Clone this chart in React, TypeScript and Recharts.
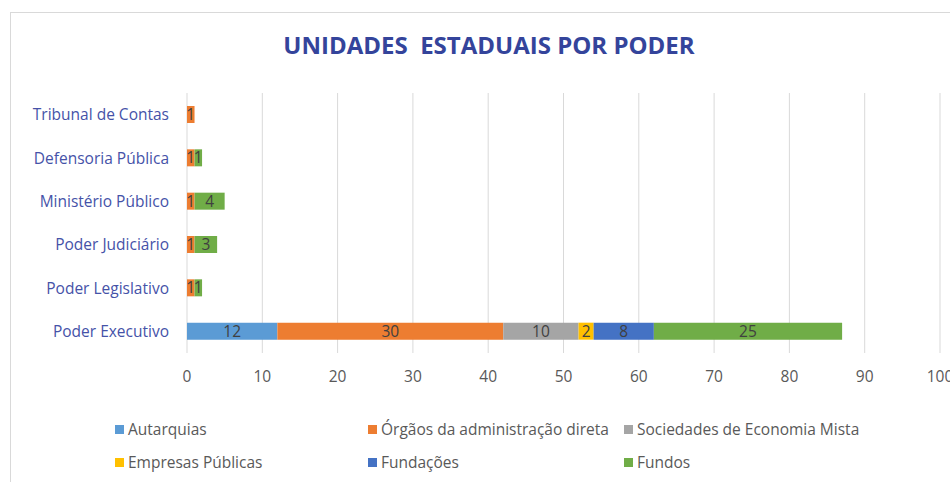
import { BarChart, Bar, XAxis, YAxis, CartesianGrid, LabelList } from "recharts";

const CATEGORIES = [
  "Tribunal de Contas",
  "Defensoria Pública",
  "Ministério Público",
  "Poder Judiciário",
  "Poder Legislativo",
  "Poder Executivo",
];
const AUTARQUIAS = [0, 0, 0, 0, 0, 12];
const ORGAOS = [1, 1, 1, 1, 1, 30];
const SOCIEDADES = [0, 0, 0, 0, 0, 10];
const EMPRESAS = [0, 0, 0, 0, 0, 2];
const FUNDACOES = [0, 0, 0, 0, 0, 8];
const FUNDOS = [0, 1, 4, 3, 1, 25];
const X_TICKS = [0, 10, 20, 30, 40, 50, 60, 70, 80, 90, 100];

const SERIES = [
  { key: "autarquias", name: "Autarquias", color: "#5B9BD5" },
  { key: "orgaos", name: "Órgãos da administração direta", color: "#ED7D31" },
  { key: "sociedades", name: "Sociedades de Economia Mista", color: "#A5A5A5" },
  { key: "empresas", name: "Empresas Públicas", color: "#FFC000" },
  { key: "fundacoes", name: "Fundações", color: "#4472C4" },
  { key: "fundos", name: "Fundos", color: "#70AD47" },
];

const data = CATEGORIES.map((name, i) => ({
  name,
  autarquias: AUTARQUIAS[i],
  orgaos: ORGAOS[i],
  sociedades: SOCIEDADES[i],
  empresas: EMPRESAS[i],
  fundacoes: FUNDACOES[i],
  fundos: FUNDOS[i],
}));

const FONT = "'Open Sans', sans-serif";

// legend laid out in two rows of three, like the Excel original
const LEGEND_COLS = [120, 373, 629];
const LEGEND_ROWS = [429, 462];

export default function App() {
  return (
    <div
      style={{
        position: "fixed",
        left: 0,
        top: 0,
        width: 950,
        height: 482,
        background: "#fff",
        overflow: "hidden",
        fontFamily: FONT,
      }}
    >
      {/* frame */}
      <div
        style={{
          position: "absolute",
          left: 10,
          top: 12,
          width: 980,
          height: 500,
          border: "1px solid #d9d9d9",
        }}
      />

      {/* Title */}
      <div
        style={{
          position: "absolute",
          left: 0,
          width: 978,
          top: 29,
          textAlign: "center",
          fontSize: 24,
          fontWeight: 700,
          color: "#34449B",
          whiteSpace: "pre",
          lineHeight: "32px",
        }}
      >
        {"UNIDADES  ESTADUAIS POR PODER"}
      </div>

      <div style={{ position: "absolute", left: 0, top: 0 }}>
        <BarChart
          width={950}
          height={400}
          data={data}
          layout="vertical"
          margin={{ top: 93, right: 10, left: 0, bottom: 17 }}
        >
          <CartesianGrid horizontal={false} stroke="#d9d9d9" />
          <XAxis
            type="number"
            domain={[0, 100]}
            ticks={X_TICKS}
            interval={0}
            axisLine={false}
            tickLine={false}
            tickMargin={12}
            height={30}
            tick={{ fill: "#595959", fontSize: 15.5, fontFamily: FONT }}
          />
          <YAxis
            type="category"
            dataKey="name"
            width={187}
            axisLine={false}
            tickLine={false}
            tickMargin={12}
            tick={{ fill: "#4552A8", fontSize: 15.5, fontFamily: FONT }}
          />
          {SERIES.map((s) => (
            <Bar
              key={s.key}
              dataKey={s.key}
              name={s.name}
              stackId="a"
              fill={s.color}
              barSize={17}
              isAnimationActive={false}
            >
              <LabelList
                dataKey={s.key}
                position="center"
                formatter={(v: number) => (v ? v : "")}
                style={{ fill: "#404040", fontSize: 15.5, fontFamily: FONT }}
              />
            </Bar>
          ))}
        </BarChart>
      </div>

      {/* Legend */}
      {SERIES.map((s, i) => (
        <div
          key={s.key}
          style={{
            position: "absolute",
            left: LEGEND_COLS[i % 3] - 5,
            top: LEGEND_ROWS[Math.floor(i / 3)] - 11,
            display: "flex",
            alignItems: "center",
            height: 22,
            fontSize: 15.5,
            color: "#595959",
            whiteSpace: "nowrap",
          }}
        >
          <span
            style={{
              display: "inline-block",
              width: 9,
              height: 9,
              background: s.color,
              marginRight: 4,
            }}
          />
          {s.name}
        </div>
      ))}
    </div>
  );
}
